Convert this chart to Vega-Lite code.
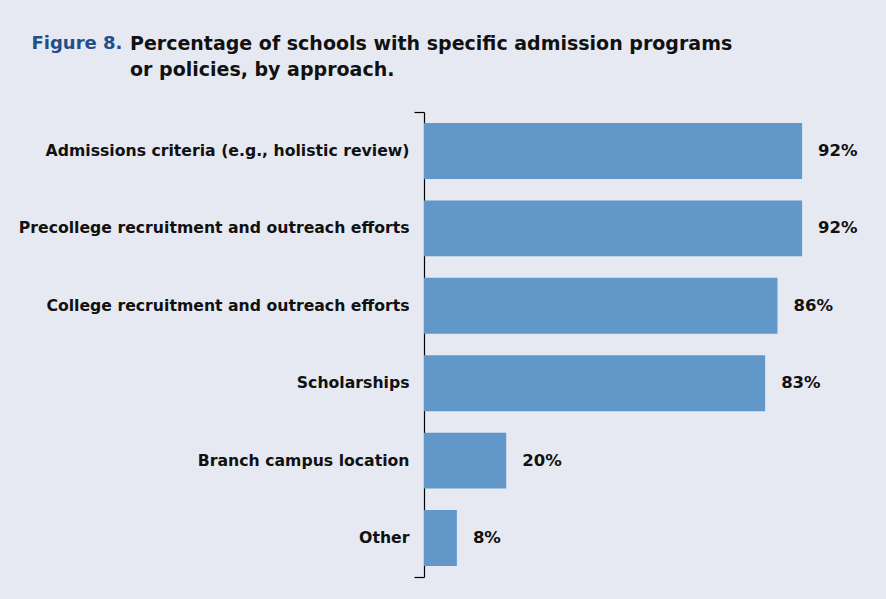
{
  "$schema": "https://vega.github.io/schema/vega-lite/v6.json",
  "width": 411,
  "height": 465,
  "autosize": {"type": "none"},
  "padding": {"left": 424, "top": 112, "right": 51, "bottom": 22},
  "background": "#e6e9f1",
  "config": {"view": {"stroke": null}},
  "title": {
    "text": ["Percentage of schools with specific admission programs", "or policies, by approach."],
    "anchor": "start",
    "frame": "group",
    "dx": -294,
    "dy": 46,
    "offset": 0,
    "font": "DejaVu Sans",
    "fontSize": 19,
    "fontWeight": "bold",
    "color": "#111111",
    "lineHeight": 26
  },
  "data": {
    "values": [
      {"approach": "Admissions criteria (e.g., holistic review)", "pct": 92, "label": "92%"},
      {"approach": "Precollege recruitment and outreach efforts", "pct": 92, "label": "92%"},
      {"approach": "College recruitment and outreach efforts", "pct": 86, "label": "86%"},
      {"approach": "Scholarships", "pct": 83, "label": "83%"},
      {"approach": "Branch campus location", "pct": 20, "label": "20%"},
      {"approach": "Other", "pct": 8, "label": "8%"}
    ]
  },
  "layer": [
    {
      "encoding": {
        "y": {
          "field": "approach", "type": "nominal", "sort": null,
          "scale": {"paddingInner": 0.277, "paddingOuter": 0.142},
          "axis": {"title": null, "domain": false, "ticks": false, "labelPadding": 15, "labelFont": "DejaVu Sans", "labelFontSize": 15.7, "labelFontWeight": "bold", "labelColor": "#111111", "labelLimit": 0}
        },
        "x": {
          "field": "pct", "type": "quantitative", "scale": {"domain": [0, 100]},
          "axis": {"orient": "top", "title": "Figure 8.", "labels": false, "ticks": false, "domain": false, "grid": false, "titleX": -393, "titleY": -64, "titleAlign": "left", "titleBaseline": "alphabetic", "titleColor": "#1f4e8a", "titleFont": "DejaVu Sans", "titleFontSize": 18, "titleFontWeight": "bold"}
        }
      },
      "layer": [
        {"mark": {"type": "bar", "color": "#6197c9"}},
        {
          "mark": {"type": "text", "align": "left", "dx": 16, "font": "DejaVu Sans", "fontSize": 16.5, "fontWeight": "bold", "color": "#111111"},
          "encoding": {"text": {"field": "label"}}
        }
      ]
    },
    {
      "mark": {"type": "point", "opacity": 0},
      "encoding": {
        "y": {"datum": 0, "type": "quantitative", "scale": {"domain": [0, 1]},
          "axis": {"orient": "left", "values": [0, 1], "labels": false, "tickSize": 10, "domainColor": "#000000", "tickColor": "#000000", "domainWidth": 1.2, "tickWidth": 1.2, "grid": false, "title": null}}
      }
    }
  ],
  "resolve": {"scale": {"y": "independent"}, "axis": {"y": "independent"}}
}
